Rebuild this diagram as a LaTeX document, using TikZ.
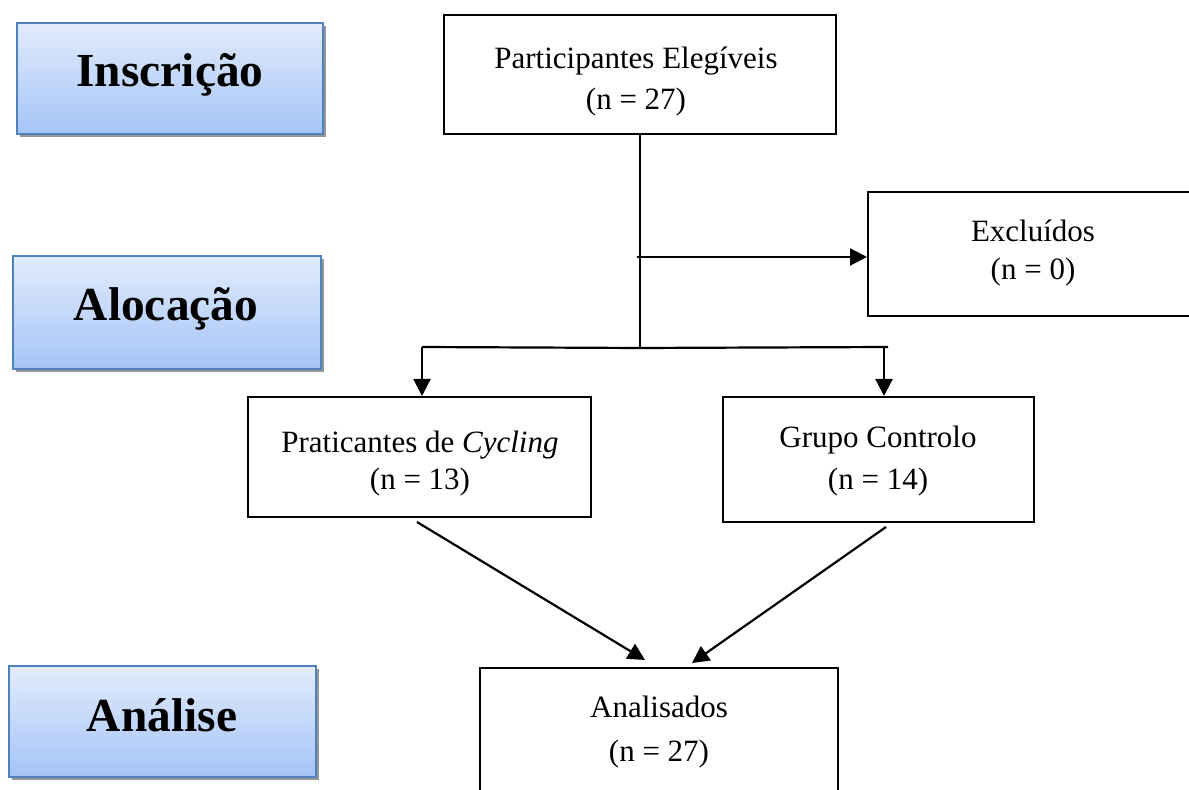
\documentclass[tikz,border=0pt]{standalone}
\usepackage{fontspec}
\setmainfont{Liberation Serif}
\usetikzlibrary{arrows.meta,shadows}
\definecolor{gradtop}{RGB}{226,235,252}
\definecolor{gradbot}{RGB}{164,196,247}
\definecolor{bordblue}{RGB}{79,129,189}
\definecolor{shadowgray}{RGB}{150,150,150}
\tikzset{
  flowbox/.style={draw=black, line width=1pt, fill=white, inner sep=0pt},
  phasebox/.style={draw=bordblue, line width=1pt, top color=gradtop, bottom color=gradbot,
    inner sep=0pt, drop shadow={shadow xshift=1.6pt, shadow yshift=-1.6pt, fill=shadowgray, opacity=1}},
  txt/.style={anchor=base, inner sep=0pt, font=\fontsize{15.5}{19}\selectfont},
  phasetxt/.style={anchor=base, inner sep=0pt, font=\fontsize{23.7}{28}\selectfont\bfseries},
  conn/.style={line width=1.1pt, draw=black},
  arr/.style={conn, -{Triangle[length=8.5pt,width=8.5pt]}}
}
\begin{document}
\begin{tikzpicture}[x=0.5pt,y=-0.5pt]
\useasboundingbox (0,0) rectangle (1189,790);
\clip (0,0) rectangle (1189,790);
% phase boxes
\node[phasebox, minimum width=153pt, minimum height=55.5pt] (insc) at (170,78.5) {};
\node[phasetxt] (insct) at (170,87) {Inscrição};
\node[phasebox, minimum width=154pt, minimum height=56.5pt] (aloc) at (167,312.5) {};
\node[phasetxt] (aloct) at (166,321) {Alocação};
\node[phasebox, minimum width=153.5pt, minimum height=55.5pt] (anal) at (162.5,721.5) {};
\node[phasetxt] (analt) at (162,732) {Análise};
% flow boxes
\node[flowbox, minimum width=196pt, minimum height=59.5pt] (part) at (640,74.5) {};
\node[txt] (part1) at (636,69) {Participantes Elegíveis};
\node[txt] (part2) at (636,110) {(n = 27)};
\node[flowbox, minimum width=165pt, minimum height=62pt] (excl) at (1033,254) {};
\node[txt] (excl1) at (1033,242) {Excluídos};
\node[txt] (excl2) at (1033,280) {(n = 0)};
\node[flowbox, minimum width=171.5pt, minimum height=60pt] (prat) at (419.5,457) {};
\node[txt] (prat1) at (420,453) {Praticantes de \textit{Cycling}};
\node[txt] (prat2) at (420,490) {(n = 13)};
\node[flowbox, minimum width=155.5pt, minimum height=62.5pt] (grup) at (878.5,459.5) {};
\node[txt] (grup1) at (878,448) {Grupo Controlo};
\node[txt] (grup2) at (878,490) {(n = 14)};
\node[flowbox, minimum width=179pt, minimum height=66pt] (anls) at (659,734) {};
\node[txt] (anls1) at (659,718) {Analisados};
\node[txt] (anls2) at (659,762) {(n = 27)};
% connectors
\coordinate (j) at (640,348);
\coordinate (ex) at (637,257);
\coordinate (pl) at (422,347);
\coordinate (pr) at (888,347);
\coordinate (grx) at (884,347);
\coordinate (pa) at (417,522);
\coordinate (pat) at (645,660);
\coordinate (ga) at (886,527);
\coordinate (gat) at (692,663);
\draw[conn] (part.south -| j) -- (j);
\draw[arr] (ex) -- (ex -| excl.west);
\draw[conn] (j) -- (pl);
\draw[arr] (pl) -- (pl |- prat.north);
\draw[conn] (j) -- (pr);
\draw[arr] (grx) -- (grx |- grup.north);
\draw[arr] (pa) -- (pat);
\draw[arr] (ga) -- (gat);
\end{tikzpicture}
\end{document}
